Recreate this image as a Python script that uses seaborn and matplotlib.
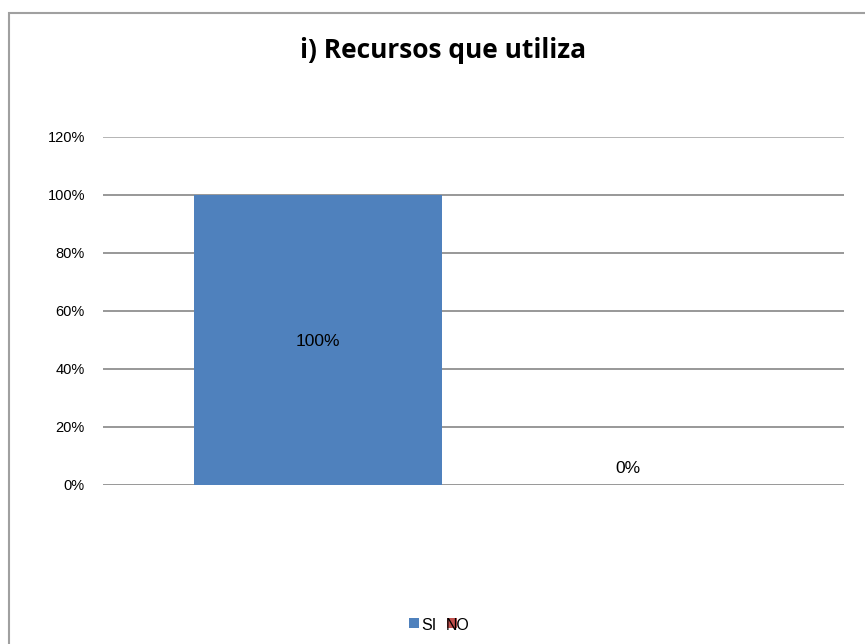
import matplotlib
matplotlib.use("Agg")
import matplotlib.pyplot as plt
import matplotlib.patches as mpatches
import seaborn as sns
import pandas as pd

categories = ["SI", "NO"]
values = [1.00, 0.00]
value_labels = ["100%", "0%"]
y_ticks = [0.0, 0.2, 0.4, 0.6, 0.8, 1.0, 1.2]
y_tick_labels = ["0%", "20%", "40%", "60%", "80%", "100%", "120%"]
colors = ["#4F81BD", "#C0504D"]

sns.set_theme(style="white")
plt.rcParams["font.family"] = ["Liberation Sans", "DejaVu Sans"]

df = pd.DataFrame({"respuesta": categories, "valor": values})

fig = plt.figure(figsize=(8.65, 6.44), dpi=100)
ax = fig.add_axes([103 / 865, 1 - 485 / 644, (844 - 103) / 865, (485 - 137) / 644])

sns.barplot(data=df, x="respuesta", y="valor", hue="respuesta",
            palette=colors, width=0.8, ax=ax, legend=False,
            saturation=1, edgecolor="none")

ax.set_ylim(0, 1.2)
ax.set_xlim(-0.695, 1.697)
ax.set_yticks(y_ticks)
ax.set_yticklabels(y_tick_labels, fontsize=10.5, color="#000000")
ax.tick_params(axis="y", length=0, pad=13)
ax.set_xticks([])
ax.set_xlabel("")
ax.set_ylabel("")
for s in ax.spines.values():
    s.set_visible(False)
ax.yaxis.grid(True, color="#868686", linewidth=1.2)
ax.set_axisbelow(True)
ax.get_ygridlines()[-1].set_color("#A8A8A8")

# value labels: centred inside a tall bar, just above a zero bar
for i, (v, lab) in enumerate(zip(values, value_labels)):
    if v > 0.1:
        ax.text(i, v / 2 - 0.005, lab, ha="center", va="center", fontsize=12.5, color="#000000")
    else:
        ax.text(i, v + 0.057, lab, ha="center", va="center", fontsize=12.5, color="#000000")

fig.text(443 / 865, 1 - 50 / 644, "i) Recursos que utiliza", ha="center", va="center",
         fontsize=19, fontweight="bold", family=["Open Sans", "DejaVu Sans"], color="#000000")

# legend row at the bottom: colour key squares and series names
legend_y = 1 - 625 / 644
key_size = (10 / 865, 10 / 644)
key_x = [409 / 865, 447 / 865]
text_x = [421 / 865, 446 / 865]
for c, name, kx, tx in zip(colors, categories, key_x, text_x):
    fig.patches.append(mpatches.Rectangle((kx, legend_y - key_size[1] / 2 + 2 / 644), *key_size,
                                          transform=fig.transFigure, facecolor=c,
                                          edgecolor="none", zorder=1))
    fig.text(tx, legend_y, name, ha="left", va="center", fontsize=11.5,
             color="#000000", zorder=2)

# chart area frame
fig.patches.append(mpatches.Rectangle((8.5 / 865, -0.1), 1.2, 1 - 13 / 644 + 0.1,
                                      transform=fig.transFigure, fill=False,
                                      edgecolor="#A0A0A0", linewidth=1.5))

fig.savefig("out.png", dpi=100, facecolor="white")
